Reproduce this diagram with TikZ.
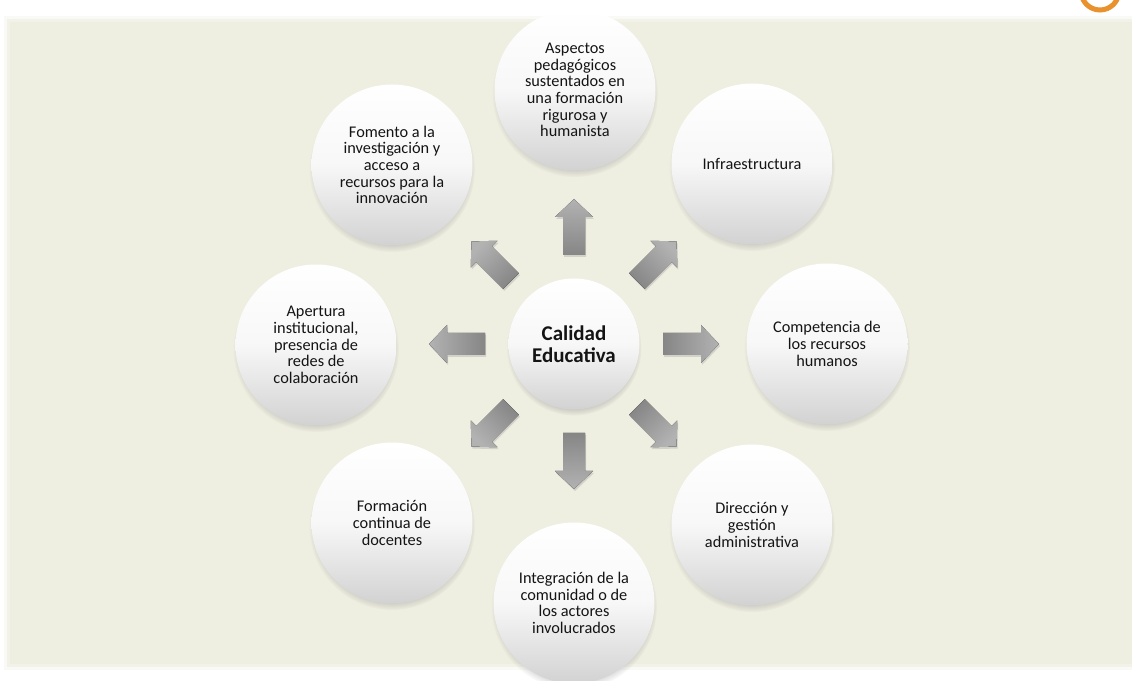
\documentclass[tikz,border=0pt]{standalone}
\usepackage{fontspec}
\setmainfont{Carlito}
\usetikzlibrary{shadows,calc}
\definecolor{panel}{HTML}{EEEEE1}
\definecolor{txt}{HTML}{141414}
\definecolor{orng}{HTML}{E8912D}
\definecolor{arlight}{HTML}{B2B2B2}
\definecolor{ardark}{HTML}{868686}
\definecolor{ballbot}{HTML}{D2D2D2}
\tikzset{
  bubble/.style={circle, inner sep=0pt, align=center, text=txt,
    top color=white, bottom color=ballbot, middle color=gray!6,
    circular drop shadow={shadow xshift=0pt, shadow yshift=-4pt, shadow scale=1.03, opacity=0.45}},
  outer/.style={bubble, minimum size=161pt, font=\fontsize{16.3}{16.6}\selectfont},
  hub/.style={bubble, minimum size=131pt, font=\bfseries\fontsize{21}{21.5}\selectfont},
  blockarrow/.style={top color=arlight, bottom color=ardark,
    drop shadow={shadow xshift=1pt, shadow yshift=-2pt, opacity=0.25}},
}
\begin{document}
\begin{tikzpicture}[x=1pt,y=1pt]
\useasboundingbox (0,0) rectangle (1132,680);
\clip (0,0) rectangle (1132,680);
% panel with soft edges
\fill[panel, opacity=0.35] (4,10) rectangle (1132,664);
\fill[panel, opacity=0.6] (7,13) rectangle (1132,661);
\fill[panel] (10,16) rectangle (1132,658);
% orange ring at top right
\draw[orng, line width=5pt] (1100,689) circle (19);
% hub
\node[hub] (C) at (574,336) {Calidad\\Educativa};
% arrows
\foreach \a [evaluate=\a as \sa using \a-90] in {0,45,...,315}{
  \fill[blockarrow, shading angle=\sa]
    ($(C.center)+(\a:89)+(\a+90:11)$) -- ($(C.center)+(\a:127)+(\a+90:11)$) --
    ($(C.center)+(\a:127)+(\a+90:19)$) -- ($(C.center)+(\a:145)$) --
    ($(C.center)+(\a:127)+(\a-90:19)$) -- ($(C.center)+(\a:127)+(\a-90:11)$) --
    ($(C.center)+(\a:89)+(\a-90:11)$) -- cycle;
}
% outer bubbles
\node[outer] (top) at (575,590) {Aspectos\\pedagógicos\\sustentados en\\una formación\\rigurosa y\\humanista};
\node[outer] (tr) at (752,516) {Infraestructura};
\node[outer] (r) at (827,336) {Competencia de\\los recursos\\humanos};
\node[outer] (br) at (752,155) {Dirección y\\gestión\\administrativa};
\node[outer] (b) at (574,77) {Integración de la\\comunidad o de\\los actores\\involucrados};
\node[outer] (bl) at (392,157) {Formación\\continua de\\docentes};
\node[outer] (l) at (316,335) {Apertura\\institucional,\\presencia de\\redes de\\colaboración};
\node[outer] (tl) at (392,515) {Fomento a la\\investigación y\\acceso a\\recursos para la\\innovación};
\end{tikzpicture}
\end{document}
